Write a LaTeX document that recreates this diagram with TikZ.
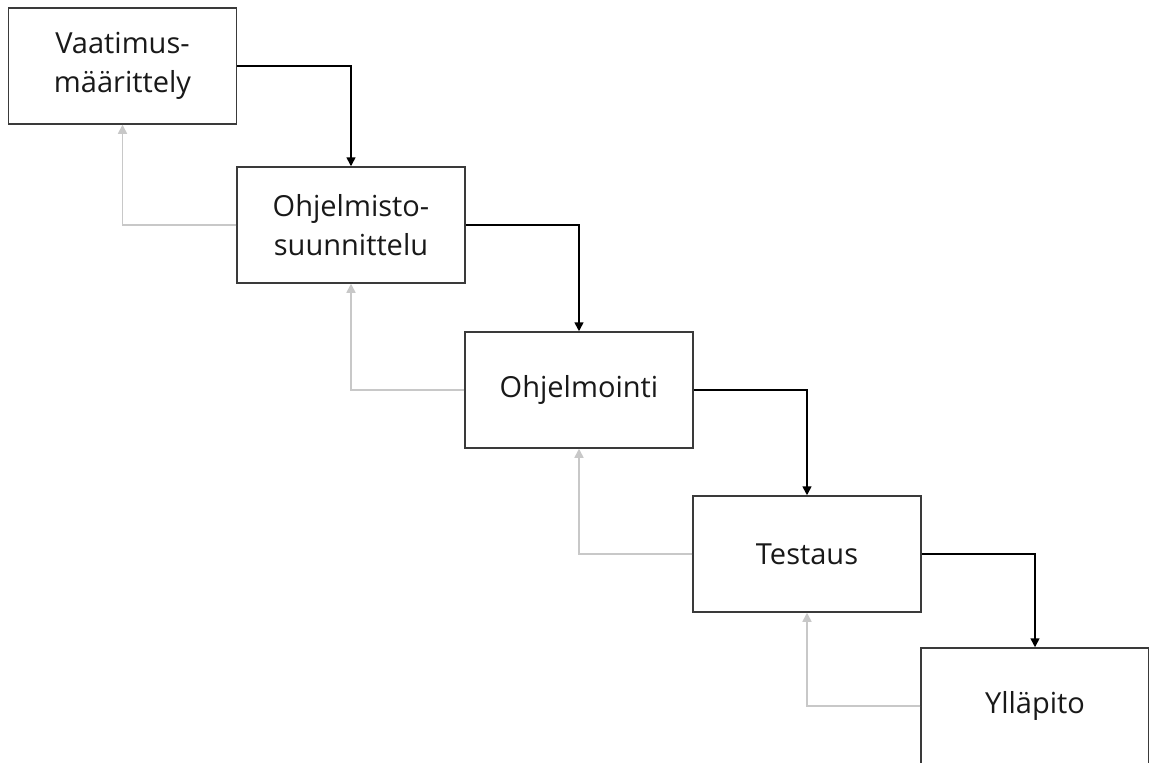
\documentclass[tikz,border=0pt]{standalone}
\usepackage{fontspec}
\setmainfont{Open Sans}
\usetikzlibrary{arrows.meta}
\definecolor{boxline}{HTML}{3A3A3A}
\definecolor{fwdline}{HTML}{4A4A4A}
\definecolor{backline}{HTML}{C8C8C8}
\begin{document}
\begin{tikzpicture}[x=1pt,y=-1pt,
  phase/.style={draw=boxline,line width=1.5pt,fill=white,minimum width=228pt,minimum height=116pt,
    inner sep=0pt,align=center,font=\fontsize{29}{35}\selectfont,text=black!90},
  fwd/.style={draw=fwdline,line width=1.6pt,-{Triangle[width=9pt,length=9pt]},color=black},
  back/.style={draw=backline,line width=1.6pt,-{Triangle[width=9pt,length=9pt]},color=backline}]
\useasboundingbox (0,0) rectangle (1149,763);
\fill[white] (0,0) rectangle (1149,763);

\node[phase] (req)  at (122.5,66) {Vaatimus-\\[4pt]määrittely};
\node[phase] (des)  at (351,225)  {Ohjelmisto-\\[4pt]suunnittelu};
\node[phase] (code) at (579,390)  {Ohjelmointi};
\node[phase] (test) at (807,554)  {Testaus};
\node[phase] (main) at (1035,706) {Ylläpito};

% forward flow: each phase feeds the next
\draw[fwd] (req.east)  -| (des.north);
\draw[fwd] (des.east)  -| (code.north);
\draw[fwd] (code.east) -| (test.north);
\draw[fwd] (test.east) -| (main.north);

% feedback to the previous phase
\draw[back] (des.west)  -| (req.south);
\draw[back] (code.west) -| (des.south);
\draw[back] (test.west) -| (code.south);
\draw[back] (main.west) -| (test.south);
\end{tikzpicture}
\end{document}
